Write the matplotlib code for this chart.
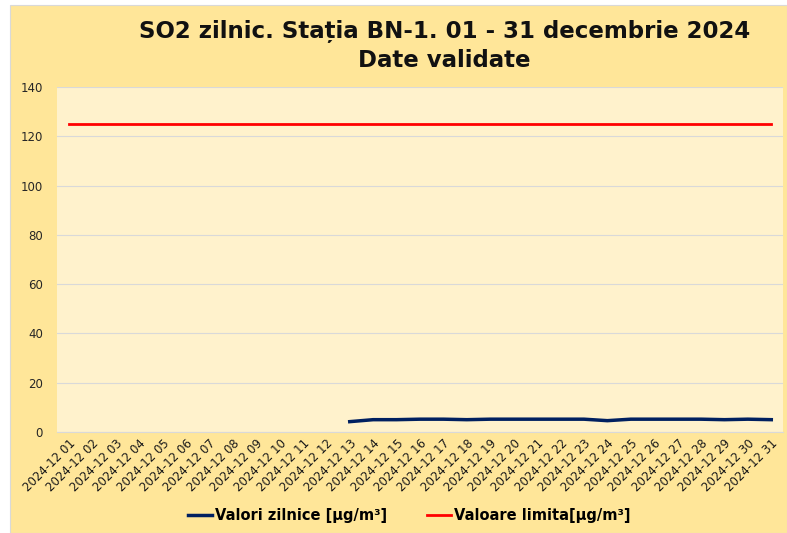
import matplotlib.pyplot as plt
from matplotlib.patches import Rectangle
import numpy as np

# Daily SO2 values, station BN-1, December 2024 (no data before the 13th)
days = ["2024-12 %02d" % d for d in range(1, 32)]
valori = [np.nan] * 12 + [4.2, 5.0, 5.0, 5.2, 5.2, 5.0, 5.2, 5.2, 5.2, 5.2,
                          5.2, 4.6, 5.2, 5.2, 5.2, 5.2, 5.0, 5.2, 5.0]
limita = [125] * 31

fig = plt.figure(figsize=(7.87, 5.33), dpi=100)
fig.patch.set_facecolor("white")
# yellow chart area, with thin white border left/top like the screenshot
fig.add_artist(Rectangle((10 / 787, 0), 1 - 10 / 787, 1 - 5 / 533,
                         transform=fig.transFigure, facecolor="#FFE699",
                         edgecolor="#D9D9D9", linewidth=0.8, zorder=-10))

ax = fig.add_axes([57 / 787, 1 - 432 / 533, 726 / 787, 345 / 533])
ax.set_facecolor("#FFF2CC")

x = np.arange(len(days))
ax.plot(x, valori, color="#002060", linewidth=2.5, label="Valori zilnice [µg/m³]")
ax.plot(x, limita, color="#FF0000", linewidth=2, label="Valoare limita[µg/m³]")

ax.set_xlim(-0.5, len(days) - 0.5)
ax.set_ylim(0, 140)
ax.set_yticks(range(0, 141, 20))
ax.grid(axis="y", color="#D9D9D9", linewidth=0.8)
ax.set_axisbelow(True)
for s in ["top", "right", "left"]:
    ax.spines[s].set_visible(False)
ax.spines["bottom"].set_color("#D9D9D9")
ax.tick_params(axis="both", length=0)
ax.tick_params(axis="y", labelsize=8.5, pad=10, labelcolor="#262626")
ax.set_xticks(x)
ax.set_xticklabels(days, rotation=45, ha="right", rotation_mode="anchor",
                   fontsize=8.5, color="#1a1a1a")

fig.text(0.565, 0.915, "SO2 zilnic. Stația BN-1. 01 - 31 decembrie 2024\nDate validate",
         ha="center", va="center", fontsize=16.5, fontweight="bold",
         linespacing=1.4, color="#111111")

fig.legend(loc="center", bbox_to_anchor=(0.52, 0.032), ncol=2, frameon=False,
           prop={"size": 10.5, "weight": "bold"}, handlelength=1.6,
           handletextpad=0.2, columnspacing=2.8)

fig.savefig("out.png", dpi=100)
